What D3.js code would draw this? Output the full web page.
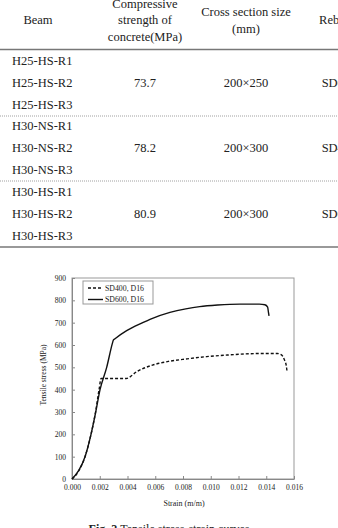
<!DOCTYPE html>
<html lang="en">
<head>
    <meta charset="UTF-8">
    <title>Tensile stress-strain curves</title>
    <script src="https://cdn.jsdelivr.net/npm/d3@7/dist/d3.min.js"></script>
    <style>
        body{ margin:0; background:#fff; }
        svg text{ font-family:"Liberation Serif","DejaVu Serif",serif; fill:#222; }
        .cell{ font-size:12.5px; }
        .tick text{ font-size:7.5px; }
        .axis path, .axis line{ stroke:#888; }
        path.curve{ fill:none; stroke:#111; stroke-width:1.4px; }
        path.sd400{ stroke-dasharray:3,2; }
    </style>
</head>
<body>
<svg id="main" width="338" height="528"></svg>
<script>
    // table content
    const headers = [["Beam"], ["Compressive", "strength of", "concrete(MPa)"], ["Cross section size", "(mm)"], ["Rebar"]];
    const beams = [["H25-HS-R1", "H25-HS-R2", "H25-HS-R3"],
                   ["H30-NS-R1", "H30-NS-R2", "H30-NS-R3"],
                   ["H30-HS-R1", "H30-HS-R2", "H30-HS-R3"]];
    const strengths = ["73.7", "78.2", "80.9"];
    const sections = ["200×250", "200×300", "200×300"];
    const rebars = ["SD600", "SD400", "SD600"];

    // stress-strain curves
    const strain400 = [0, 0.0005, 0.00094, 0.00137, 0.0017, 0.00195, 0.0021, 0.0039, 0.0047, 0.0058, 0.007, 0.0083, 0.0097, 0.0112, 0.0125, 0.0137, 0.0148, 0.0151, 0.0153, 0.01545, 0.0155];
    const stress400 = [0, 38, 100, 200, 300, 400, 450, 450, 482, 510, 527, 538, 548, 555, 560, 562, 562, 556, 535, 505, 480];
    const strain600 = [0, 0.0005, 0.00094, 0.00137, 0.00171, 0.00202, 0.0025, 0.0029, 0.00298, 0.0031, 0.00394, 0.0051, 0.00562, 0.00706, 0.0082, 0.0092, 0.0105, 0.0121, 0.0135, 0.0139, 0.0141, 0.01415, 0.0142];
    const stress600 = [0, 40, 100, 200, 300, 400, 500, 605, 622, 628, 664, 700, 715, 746, 762, 772, 779, 783, 783, 780, 770, 750, 730];
    const seriesNames = ["SD400, D16", "SD600, D16"];
    const xTicks = [0, 0.002, 0.004, 0.006, 0.008, 0.010, 0.012, 0.014, 0.016];
    const yTicks = [0, 100, 200, 300, 400, 500, 600, 700, 800, 900];

    let svg = d3.select('svg#main');

    // ---- table ----
    let colX = [38, 145, 246, 334];
    let tbl = svg.append('g');
    let headLineY = [[20], [4, 20, 37], [12, 29], [20]];
    headers.forEach(function(lines, i){
        lines.forEach(function(t, j){
            tbl.append('text').attr('class', 'cell')
                .attr('x', colX[i]).attr('y', headLineY[i][j]).attr('dy', '0.35em')
                .attr('text-anchor', 'middle').text(t);
        });
    });
    tbl.append('line').attr('x1', 0).attr('x2', 338).attr('y1', 49.5).attr('y2', 49.5)
        .attr('stroke', '#777').attr('stroke-width', 1.6);

    let groupTop = [61, 126, 192];
    let rowStep = 22;
    let valX = [145, 246, 339];
    beams.forEach(function(g, gi){
        g.forEach(function(b, j){
            tbl.append('text').attr('class', 'cell')
                .attr('x', 12).attr('y', groupTop[gi] + j * rowStep).attr('dy', '0.35em').text(b);
        });
        let midY = groupTop[gi] + rowStep;
        [strengths[gi], sections[gi], rebars[gi]].forEach(function(v, k){
            tbl.append('text').attr('class', 'cell')
                .attr('x', valX[k]).attr('y', midY).attr('dy', '0.35em')
                .attr('text-anchor', 'middle').text(v);
        });
        let sepY = groupTop[gi] + 2 * rowStep + 11;
        let sep = tbl.append('line').attr('x1', 0).attr('x2', 338)
            .attr('y1', sepY).attr('y2', sepY).attr('stroke', '#888');
        if (gi < 2) sep.attr('stroke-dasharray', '1,1').attr('stroke-width', 0.8);
        else sep.attr('stroke-width', 1.6).attr('stroke', '#777');
    });

    // ---- chart ----
    let xScale = d3.scaleLinear().domain([0, 0.016]).range([72, 294]);
    let yScale = d3.scaleLinear().domain([0, 900]).range([479, 278]);

    let fig = svg.append('g');
    // frame
    fig.append('rect').attr('x', 72).attr('y', 278).attr('width', 222).attr('height', 201)
        .attr('fill', 'none').attr('stroke', '#999');

    let xAxis = fig.append('g').attr('class', 'axis')
        .attr('transform', 'translate(0,479)')
        .call(d3.axisBottom(xScale).tickValues(xTicks).tickFormat(d3.format('.3f')).tickSizeInner(-3).tickSizeOuter(0).tickPadding(6));
    let yAxis = fig.append('g').attr('class', 'axis')
        .attr('transform', 'translate(72,0)')
        .call(d3.axisLeft(yScale).tickValues(yTicks).tickSizeInner(-3).tickSizeOuter(0).tickPadding(6));

    fig.append('text').attr('x', 184).attr('y', 506).attr('text-anchor', 'middle')
        .style('font-size', '8px').text('Strain (m/m)');
    fig.append('text').attr('transform', 'translate(46,375) rotate(-90)')
        .attr('text-anchor', 'middle').style('font-size', '7.5px').text('Tensile stress (MPa)');

    function pts(xs, ys){ return xs.map(function(x, i){ return [x, ys[i]]; }); }
    let line = d3.line().curve(d3.curveMonotoneX)
        .x(function(d){ return xScale(d[0]); }).y(function(d){ return yScale(d[1]); });
    fig.append('path').attr('class', 'curve sd400').attr('d', line(pts(strain400, stress400)));
    fig.append('path').attr('class', 'curve sd600').attr('d', line(pts(strain600, stress600)));

    // legend
    let lg = fig.append('g');
    lg.append('rect').attr('x', 83).attr('y', 281).attr('width', 70).attr('height', 23)
        .attr('fill', '#fff').attr('stroke', '#999');
    seriesNames.forEach(function(n, i){
        let yy = 288 + i * 11.5;
        lg.append('line').attr('x1', 88).attr('x2', 103).attr('y1', yy).attr('y2', yy)
            .attr('stroke', '#111').attr('stroke-width', 1.4)
            .attr('stroke-dasharray', i === 0 ? '3,2' : null);
        lg.append('text').attr('x', 105).attr('y', yy).attr('dy', '0.35em')
            .style('font-size', '7.8px').text(n);
    });

    // caption (cut by the bottom edge)
    let cap = svg.append('text').attr('x', 169).attr('y', 533).attr('text-anchor', 'middle')
        .style('font-size', '12px');
    cap.append('tspan').style('font-weight', 'bold').text('Fig. 2 ');
    cap.append('tspan').text('Tensile stress-strain curves');
</script>
</body>
</html>
